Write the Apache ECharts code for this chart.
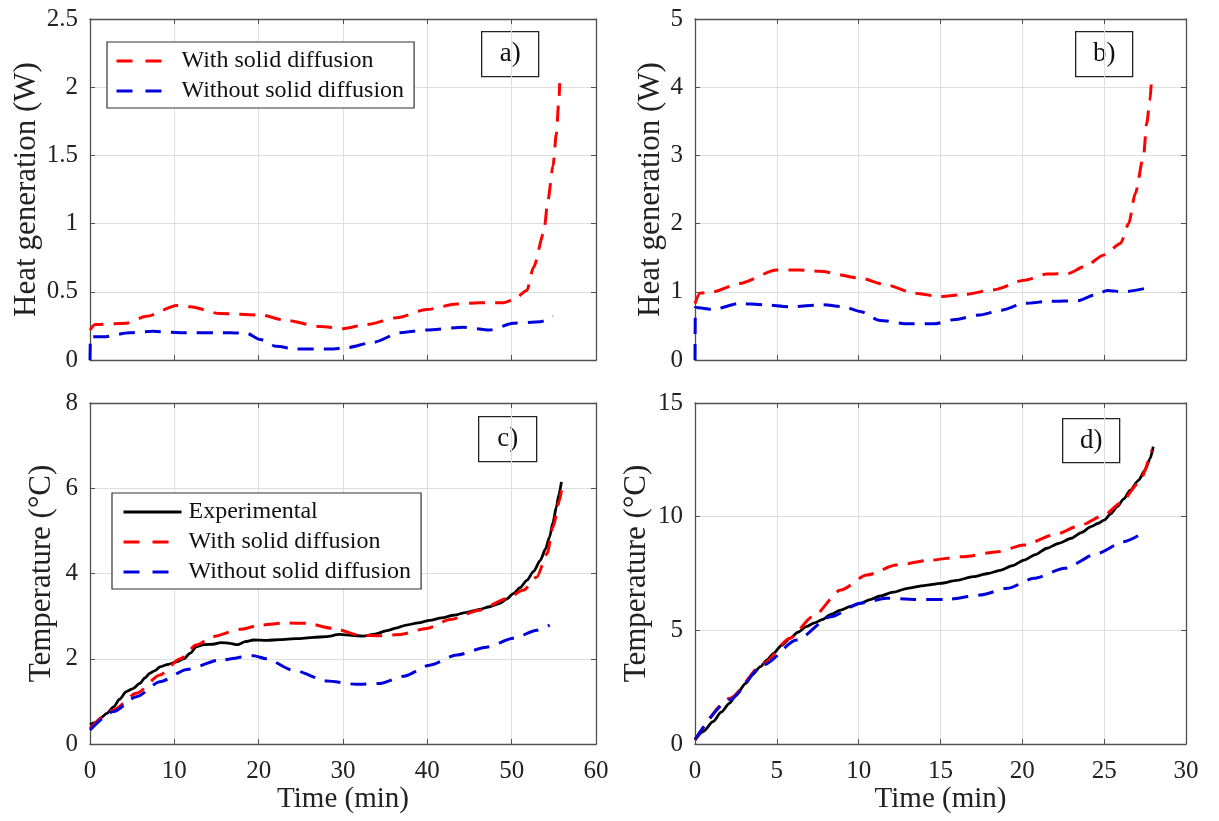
<!DOCTYPE html>
<html>
<head>
<meta charset="utf-8">
<script src="https://cdn.jsdelivr.net/npm/echarts@6/dist/echarts.min.js"></script>
<style>
html,body{margin:0;padding:0;background:#fff;}
#chart{width:1219px;height:821px;}
</style>
</head>
<body>
<div id="chart"></div>
<script>
// ---- Data (time in min, value) ----
// Panel a: heat generation (0-56 min)
const aWith = [[0,0.22],[0.6,0.26],[4.3,0.27],[6.7,0.32],[10.3,0.40],[11.9,0.39],[15.4,0.34],[20.2,0.33],[23.3,0.29],[27.3,0.245],[30,0.23],[32.8,0.26],[36.4,0.31],[39.9,0.37],[43.5,0.41],[46.2,0.42],[49,0.42],[50.2,0.44],[51.8,0.51],[52.6,0.68],[53.8,0.93],[54.3,1.17],[54.9,1.42],[55.3,1.66],[55.6,1.91],[55.7,2.03]];
const aWithout = [[0,0],[0.05,0.17],[1.6,0.17],[4.7,0.2],[7.5,0.21],[10.7,0.2],[16.6,0.2],[18.6,0.195],[20.2,0.15],[22.1,0.1],[24.5,0.08],[28.5,0.08],[30.4,0.09],[33.6,0.13],[36.8,0.2],[39.9,0.22],[44.3,0.24],[47.4,0.22],[50.2,0.27],[53.4,0.28],[54.9,0.32]];
// Panel b: heat generation (0-28 min)
const bWith = [[0,0.83],[0.3,0.98],[1.1,1.0],[2.7,1.12],[5,1.32],[6.4,1.32],[7.6,1.3],[10.1,1.2],[11.7,1.1],[13.4,0.98],[15,0.93],[16.4,0.96],[18.3,1.03],[20.1,1.17],[21.5,1.26],[22.8,1.27],[23.8,1.37],[25,1.54],[26,1.71],[26.5,2.0],[26.9,2.44],[27.4,2.98],[27.6,3.47],[27.8,3.81],[27.9,4.16]];
const bWithout = [[0,0],[0.02,0.77],[1.1,0.74],[2.7,0.83],[4.2,0.81],[5.8,0.78],[7.8,0.81],[9.1,0.78],[10.1,0.71],[11.3,0.58],[13,0.53],[14.6,0.53],[15.8,0.59],[17.4,0.66],[18.7,0.73],[20.1,0.83],[21.7,0.86],[23.4,0.87],[24.4,0.95],[25.2,1.02],[26.2,1.0],[27.5,1.05]];
// Panel c: temperature (0-56 min)
const cExp = [[0,0.45],[0.6,0.5],[1.2,0.6],[2,0.72],[2.8,0.87],[3.5,1.05],[4.3,1.23],[5.1,1.3],[5.9,1.42],[6.5,1.55],[7.1,1.66],[7.7,1.72],[8.3,1.81],[9.3,1.87],[10.3,1.93],[11.1,2.0],[11.9,2.13],[12.6,2.28],[13.5,2.33],[14.6,2.34],[15.5,2.38],[16.6,2.36],[17.5,2.33],[18.4,2.4],[19.4,2.44],[21,2.43],[22.5,2.45],[24.5,2.47],[26.5,2.5],[28,2.52],[29.6,2.57],[31,2.55],[32.4,2.53],[33.8,2.58],[35.2,2.66],[36.3,2.72],[37.5,2.79],[38.9,2.84],[40.3,2.9],[41.7,2.96],[43.1,3.02],[44.7,3.09],[46.2,3.16],[47.4,3.22],[48.6,3.3],[49.4,3.4],[50.2,3.53],[51,3.67],[51.8,3.84],[52.6,4.05],[53.4,4.31],[54,4.57],[54.5,4.86],[54.9,5.2],[55.3,5.56],[55.6,5.85],[55.9,6.15]];
const cWith = [[0,0.37],[2.8,0.8],[5.5,1.19],[8.3,1.62],[10.7,2.0],[12.6,2.32],[14.6,2.52],[17.8,2.69],[20.2,2.79],[23.3,2.84],[25.7,2.83],[28.9,2.71],[32,2.55],[34.4,2.54],[36.8,2.57],[39.9,2.71],[42.7,2.92],[46.2,3.14],[49.4,3.41],[51.4,3.61],[53,3.92],[54.2,4.47],[54.9,5.09],[55.7,5.72],[55.9,5.95]];
const cWithout = [[0,0.33],[2.8,0.76],[5.5,1.11],[8.3,1.46],[11.5,1.75],[15.4,1.97],[19.4,2.07],[20.9,2.0],[24.1,1.73],[28.1,1.48],[31.6,1.40],[34.4,1.42],[37.2,1.59],[40.3,1.85],[43.5,2.09],[47,2.27],[50.2,2.48],[53,2.67],[54.5,2.79]];
// Panel d: temperature (0-28 min)
const dExp = [[0,0.18],[0.5,0.55],[1.1,0.98],[1.6,1.4],[2.1,1.79],[2.6,2.25],[3.1,2.67],[3.5,3.05],[4,3.4],[4.4,3.7],[4.8,3.99],[5.3,4.35],[5.8,4.65],[6.3,4.92],[6.8,5.16],[7.3,5.33],[7.8,5.48],[8.3,5.7],[8.9,5.89],[9.5,6.05],[10.1,6.19],[10.7,6.35],[11.3,6.51],[12.1,6.68],[13,6.85],[14,6.97],[15,7.07],[16,7.2],[17,7.36],[17.9,7.5],[18.7,7.65],[19.4,7.85],[20.1,8.09],[20.8,8.33],[21.5,8.61],[22.2,8.82],[23,9.05],[23.6,9.3],[24.2,9.56],[24.6,9.7],[25,9.85],[25.4,10.12],[25.8,10.44],[26.2,10.78],[26.6,11.17],[27.1,11.6],[27.5,12.05],[27.8,12.55],[28,13.08]];
const dWith = [[0,0.18],[2.1,2.0],[4.2,3.55],[5.8,4.65],[7.2,5.6],[8.9,6.77],[10.5,7.43],[12.3,7.87],[14.4,8.09],[16.4,8.24],[18.5,8.46],[20.1,8.75],[21.9,9.19],[23.6,9.63],[25,10.07],[26,10.59],[27.1,11.47],[27.9,12.93]];
const dWithout = [[0,0.2],[2.1,1.94],[4.2,3.48],[6.2,4.57],[8.3,5.6],[10.1,6.19],[11.7,6.41],[13.4,6.36],[15.4,6.36],[17.4,6.55],[19.1,6.85],[20.7,7.29],[22.6,7.73],[24.6,8.39],[26.2,8.9],[27.5,9.34]];

const NAME_EXP = 'Experimental';
const NAME_WITH = 'With solid diffusion';
const NAME_WITHOUT = 'Without solid diffusion';
const panelLabels = ['a)','b)','c)','d)'];
const yNames = ['Heat generation (W)','Heat generation (W)','Temperature (°C)','Temperature (°C)'];
const xName = 'Time (min)';
// axis ranges [xmin,xmax,xint, ymin,ymax,yint]
const ranges = [
  [0,60,10, 0,2.5,0.5],
  [0,30,5, 0,5,1],
  [0,60,10, 0,8,2],
  [0,30,5, 0,15,5]
];

// ---- Layout ----
const FONT = 'Liberation Serif';
const grids = [
  {left:90, top:19, width:506, height:341},
  {left:695, top:19, width:491, height:341},
  {left:90, top:403, width:506, height:341},
  {left:695, top:403, width:491, height:341}
];
const yNameGaps = [47, 24, 33, 43];
const AX = '#505050';
const TXT = '#222';
const RED = '#ff0000';
const BLUE = '#0000dd';
const DASH = [16, 10];

const xAxes = [], yAxes = [];
for (let i = 0; i < 4; i++) {
  const r = ranges[i];
  const bottomRow = i >= 2;
  xAxes.push({
    type:'value', gridIndex:i, min:r[0], max:r[1], interval:r[2], position:'bottom',
    name: bottomRow ? xName : '', nameLocation:'middle', nameGap:35,
    nameTextStyle:{fontFamily:FONT, fontSize:29, color:TXT},
    axisLine:{show:true, onZero:false, lineStyle:{color:AX, width:1.3}},
    axisTick:{show:true, inside:true, length:5, lineStyle:{color:AX}},
    axisLabel:{show:bottomRow, fontFamily:FONT, fontSize:25, color:TXT, margin:15},
    splitLine:{show:true, lineStyle:{color:'#dedede', width:1}}
  });
  yAxes.push({
    type:'value', gridIndex:i, min:r[3], max:r[4], interval:r[5], position:'left',
    name: yNames[i], nameLocation:'middle', nameGap:yNameGaps[i], nameRotate:90,
    nameTextStyle:{fontFamily:FONT, fontSize:31, color:TXT},
    axisLine:{show:true, onZero:false, lineStyle:{color:AX, width:1.3}},
    axisTick:{show:true, inside:true, length:5, lineStyle:{color:AX}},
    axisLabel:{fontFamily:FONT, fontSize:25, color:TXT, margin:12},
    splitLine:{show:true, lineStyle:{color:'#dedede', width:1}}
  });
}
for (let i = 0; i < 4; i++) {
  const r = ranges[i];
  xAxes.push({
    type:'value', gridIndex:i, min:r[0], max:r[1], interval:r[2], position:'top',
    axisLine:{show:true, onZero:false, lineStyle:{color:AX, width:1.3}},
    axisTick:{show:true, inside:true, length:5, lineStyle:{color:AX}},
    axisLabel:{show:false}, splitLine:{show:false}
  });
  yAxes.push({
    type:'value', gridIndex:i, min:r[3], max:r[4], interval:r[5], position:'right',
    axisLine:{show:true, onZero:false, lineStyle:{color:AX, width:1.3}},
    axisTick:{show:true, inside:true, length:5, lineStyle:{color:AX}},
    axisLabel:{show:false}, splitLine:{show:false}
  });
}

function line(name, data, idx, color, dashed, width) {
  return {
    type:'line', name:name, data:data, xAxisIndex:idx, yAxisIndex:idx,
    showSymbol:false, symbol:'none', smooth:0.25, smoothMonotone:'x',
    lineStyle:{color:color, width:width, type: dashed ? DASH : 'solid'},
    itemStyle:{color:color}, animation:false, z: dashed ? 3 : 2
  };
}

const series = [
  line(NAME_WITH, aWith, 0, RED, true, 3),
  line(NAME_WITHOUT, aWithout, 0, BLUE, true, 3),
  line(NAME_WITH, bWith, 1, RED, true, 3),
  line(NAME_WITHOUT, bWithout, 1, BLUE, true, 3),
  line(NAME_EXP, cExp, 2, '#000', false, 2.8),
  line(NAME_WITH, cWith, 2, RED, true, 3),
  line(NAME_WITHOUT, cWithout, 2, BLUE, true, 3),
  line(NAME_EXP, dExp, 3, '#000', false, 2.8),
  line(NAME_WITH, dWith, 3, RED, true, 3),
  line(NAME_WITHOUT, dWithout, 3, BLUE, true, 3)
];

const LEG_DASH = [16, 13];
const legendCommon = {
  orient:'vertical', backgroundColor:'#fff', borderColor:'#333', borderWidth:1.2,
  itemWidth:58, itemHeight:14, itemGap:6, selectedMode:false,
  itemStyle:{opacity:0},
  lineStyle:{width:3},
  textStyle:{fontFamily:FONT, fontSize:24, color:'#111', padding:[0,0,0,2]}
};

const labelBoxes = [
  {x:481, y:31, w:57, h:45},
  {x:1075, y:31, w:57, h:45},
  {x:478, y:416, w:58, h:45},
  {x:1062, y:418, w:57, h:44}
];
const graphic = labelBoxes.map((b, i) => ({
  type:'group', left:b.x, top:b.y, z:100,
  children:[
    {type:'rect', shape:{x:0, y:0, width:b.w, height:b.h}, style:{fill:'#fff', stroke:'#222', lineWidth:1.3}},
    {type:'text', x:b.w/2, y:b.h/2, style:{text:panelLabels[i], font:'27px "Liberation Serif"', fill:'#111', align:'center', verticalAlign:'middle'}}
  ]
}));

const option = {
  backgroundColor:'#fff',
  animation:false,
  grid: grids,
  xAxis: xAxes,
  yAxis: yAxes,
  legend: [
    Object.assign({}, legendCommon, {left:107, top:42, padding:[7,10,5,8], data:[
      {name:NAME_WITH, lineStyle:{type:LEG_DASH, width:3}},
      {name:NAME_WITHOUT, lineStyle:{type:LEG_DASH, width:3}}
    ]}),
    Object.assign({}, legendCommon, {left:112, top:493, padding:[7,10,5,10], data:[
      {name:NAME_EXP, lineStyle:{width:3}},
      {name:NAME_WITH, lineStyle:{type:LEG_DASH, width:3}},
      {name:NAME_WITHOUT, lineStyle:{type:LEG_DASH, width:3}}
    ]})
  ],
  graphic: graphic,
  series: series
};

const chart = echarts.init(document.getElementById('chart'), null, {renderer:'canvas'});
chart.setOption(option);
</script>
</body>
</html>
